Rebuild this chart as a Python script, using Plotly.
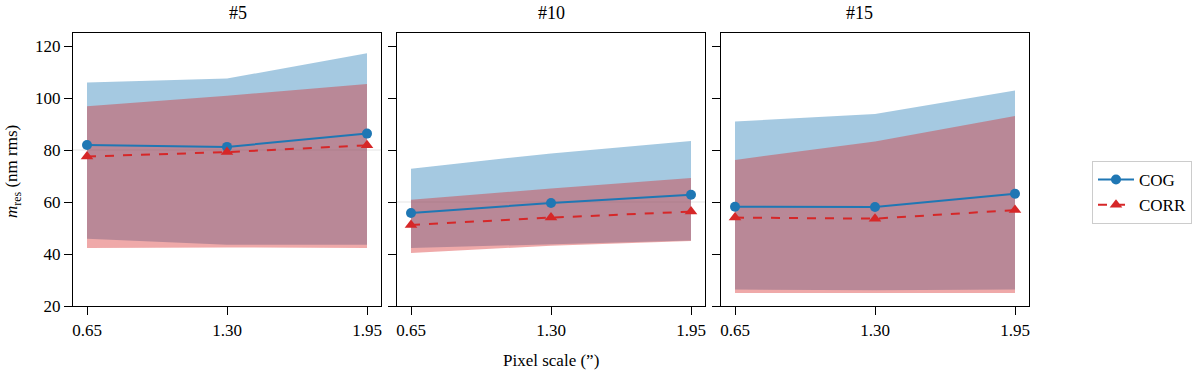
import plotly.graph_objects as go

# pixel scale values (arcsec) and tick labels
pixel_scale = [0.65, 1.30, 1.95]
tick_labels = ["0.65", "1.30", "1.95"]
panel_titles = ["#5", "#10", "#15"]

# residual wavefront error (nm rms)
cog_mean = [[81.9, 81.2, 86.3], [55.8, 59.6, 62.8], [58.2, 58.1, 63.2]]
cog_high = [[106.0, 107.5, 117.2], [72.8, 78.7, 83.5], [91.0, 93.8, 102.9]]
cog_low = [[45.9, 43.6, 43.6], [42.3, 43.8, 45.2], [26.3, 26.1, 26.3]]

corr_mean = [[77.5, 79.2, 81.8], [51.2, 54.0, 56.3], [54.0, 53.6, 56.9]]
corr_high = [[96.8, 100.9, 105.4], [60.9, 65.2, 69.2], [76.2, 83.3, 93.1]]
corr_low = [[42.3, 42.5, 42.3], [40.4, 43.2, 45.0], [25.0, 25.0, 25.0]]

ref_lines = [80, 60, None]

W, H = 1200, 372
blue = "#1f77b4"
red = "#d62728"
font = "Liberation Serif, Times New Roman, serif"

x_dom = [(73, 381), (397, 705), (721, 1029)]
y_dom = [(372 - 306) / H, (372 - 33) / H]

fig = go.Figure()

for i in range(3):
    ax = "" if i == 0 else str(i + 1)
    xa, ya = "x" + ax, "y" + ax
    # COG band
    fig.add_trace(go.Scatter(x=pixel_scale, y=cog_high[i], mode="lines", line=dict(width=0),
                             xaxis=xa, yaxis=ya, showlegend=False, hoverinfo="skip"))
    fig.add_trace(go.Scatter(x=pixel_scale, y=cog_low[i], mode="lines", line=dict(width=0),
                             fill="tonexty", fillcolor="rgba(31,119,180,0.4)",
                             xaxis=xa, yaxis=ya, showlegend=False, hoverinfo="skip"))
    # CORR band
    fig.add_trace(go.Scatter(x=pixel_scale, y=corr_high[i], mode="lines", line=dict(width=0),
                             xaxis=xa, yaxis=ya, showlegend=False, hoverinfo="skip"))
    fig.add_trace(go.Scatter(x=pixel_scale, y=corr_low[i], mode="lines", line=dict(width=0),
                             fill="tonexty", fillcolor="rgba(214,39,40,0.4)",
                             xaxis=xa, yaxis=ya, showlegend=False, hoverinfo="skip"))
    # mean lines
    fig.add_trace(go.Scatter(x=pixel_scale, y=cog_mean[i], mode="lines+markers", name="COG",
                             line=dict(color=blue, width=2), marker=dict(symbol="circle", size=10, color=blue),
                             xaxis=xa, yaxis=ya, showlegend=(i == 0)))
    fig.add_trace(go.Scatter(x=pixel_scale, y=corr_mean[i], mode="lines+markers", name="CORR",
                             line=dict(color=red, width=2, dash="dash"),
                             marker=dict(symbol="triangle-up", size=11, color=red),
                             xaxis=xa, yaxis=ya, showlegend=(i == 0)))

    if ref_lines[i] is not None:
        fig.add_shape(type="line", xref=xa + " domain", yref=ya, x0=0, x1=1,
                      y0=ref_lines[i], y1=ref_lines[i],
                      line=dict(color="rgba(0,0,0,0.1)", width=1), layer="below")

    axis_common = dict(showline=True, mirror=True, linecolor="black", linewidth=1.3,
                       ticks="outside", ticklen=8, tickwidth=1.3, tickcolor="black",
                       showgrid=False, zeroline=False, automargin=False,
                       tickfont=dict(family=font, size=17, color="black"))
    fig.layout["xaxis" + ax] = dict(
        domain=[x_dom[i][0] / W, x_dom[i][1] / W], anchor=ya, range=[0.585, 2.015],
        tickvals=pixel_scale, ticktext=tick_labels, **axis_common)
    fig.layout["yaxis" + ax] = dict(
        domain=y_dom, anchor=xa, range=[20, 125], tickvals=[20, 40, 60, 80, 100, 120],
        showticklabels=(i == 0), **axis_common)

    fig.add_annotation(text=panel_titles[i], x=(x_dom[i][0] + x_dom[i][1]) / 2 / W, y=1 - 13 / H,
                       xref="paper", yref="paper", showarrow=False, yanchor="middle",
                       font=dict(family=font, size=18, color="black"))

fig.add_annotation(text="Pixel scale (\u201d)", x=551 / W, y=1 - 360 / H, xref="paper", yref="paper",
                   showarrow=False, yanchor="middle", font=dict(family=font, size=17, color="black"))
fig.add_annotation(text="<i>m</i><sub>res</sub> (nm rms)", x=13 / W, y=1 - 172 / H,
                   xref="paper", yref="paper", showarrow=False, textangle=-90,
                   xanchor="center", yanchor="middle",
                   font=dict(family=font, size=17, color="black"))

fig.update_layout(
    width=W, height=H,
    margin=dict(l=0, r=0, t=0, b=0, autoexpand=False),
    plot_bgcolor="white", paper_bgcolor="white",
    font=dict(family=font, size=17, color="black"),
    legend=dict(x=1092 / W, y=1 - 161 / H, xanchor="left", yanchor="top", traceorder="normal",
                bordercolor="#cccccc", borderwidth=1, bgcolor="white",
                font=dict(family=font, size=17, color="black"), itemwidth=36),
)

# page has no margin and is exactly the figure size
page_fix = (
    "document.documentElement.style.overflow='hidden';"
    "document.body.style.margin='0px';"
    "document.body.style.height='372px';"
    "document.body.style.overflow='hidden';"
)
fig.write_html("out.html", config={"displayModeBar": False}, post_script=page_fix)
